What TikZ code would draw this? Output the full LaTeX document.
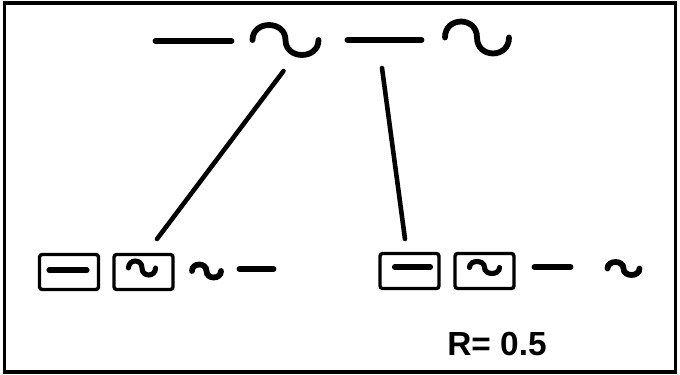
\documentclass[tikz,border=0pt]{standalone}
\usepackage{fontspec}
\setsansfont{Liberation Sans}
\usetikzlibrary{calc}
\tikzset{
  wave/.pic={\draw[pic actions] (-1,0) .. controls (-1,-1.33) and (0,-1.33) .. (0,0) .. controls (0,1.33) and (1,1.33) .. (1,0);},
  bar/.pic={\draw[pic actions] (-1,0) -- (1,0);},
  glyph/.style={line width=3.3pt, line cap=round},
  small/.style={line width=2.9pt, line cap=round},
  cell/.style={draw, line width=1.9pt, rounded corners=1.5pt, minimum width=1.18cm, minimum height=0.70cm, inner sep=0pt},
  link/.style={line width=2.6pt, line cap=round}
}
\begin{document}
\begin{tikzpicture}[x=0.02cm,y=-0.02cm]
\useasboundingbox (0,0) rectangle (680,375);
\draw[line width=1.8pt] (4.5,3) rectangle (675.5,372);
% top row
\coordinate (tb1) at (193.5,41);
\coordinate (tw1) at (285.5,40);
\coordinate (tb2) at (384.5,40);
\coordinate (tw2) at (477,37.5);
\pic[glyph, xscale=38] at (tb1) {bar};
\pic[glyph, xscale=33, yscale=15] at (tw1) {wave};
\pic[glyph, xscale=37] at (tb2) {bar};
\pic[glyph, xscale=32, yscale=16] at (tw2) {wave};
% bottom left
\node[cell] (lc1) at (69,272){};
\node[cell] (lc2) at (143.5,272){};
\pic[small, xscale=19] at (68,270) {bar};
\pic[small, xscale=13.5, yscale=7] at (142,268) {wave};
\coordinate (lw) at (206.5,271);
\coordinate (lb) at (256.5,269);
\pic[glyph, xscale=14.5, yscale=6.5] at (lw) {wave};
\pic[glyph, xscale=17] at (lb) {bar};
% bottom right
\node[cell] (rc1) at (409.5,271){};
\node[cell] (rc2) at (484.5,271){};
\pic[small, xscale=18] at (412.5,267) {bar};
\pic[small, xscale=15, yscale=6] at (484.5,267.5) {wave};
\coordinate (rb) at (552.5,267);
\coordinate (rw) at (623.5,268.5);
\pic[glyph, xscale=18] at (rb) {bar};
\pic[glyph, xscale=16, yscale=6.5] at (rw) {wave};
% links
\draw[link] ($(tw1)+(-2,31)$) -- ($(lc2)+(13.5,-33)$);
\draw[link] ($(tb2)+(-2.5,28)$) -- ($(rc1)+(-4.5,-32)$);
\node[font=\sffamily\bfseries\fontsize{19}{19}\selectfont, anchor=base] (ratio) at (497,355) {R= 0.5};
\end{tikzpicture}
\end{document}
